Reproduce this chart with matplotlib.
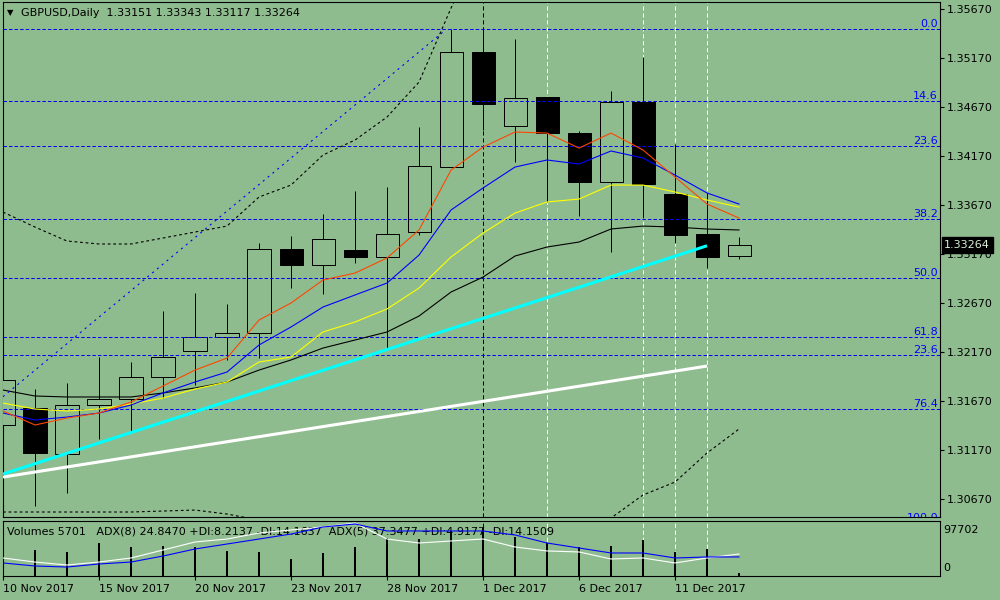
# plot.py
# GBPUSD daily chart in MetaTrader style: candles, averages, bands, Fibonacci levels, volumes and ADX

import matplotlib
matplotlib.use('Agg')
import matplotlib.pyplot as plt
import matplotlib.transforms as mtransforms
from matplotlib.patches import Rectangle

plt.rcParams['font.family'] = ['DejaVu Sans']
plt.rcParams['font.size'] = 8
plt.rcParams['lines.scale_dashes'] = False

BG = '#8FBC8F'
LW = 0.72  # exactly one pixel at 100 dpi, snapped to the pixel grid
LWC = 0.8  # curves

# ----------------- data (one entry per daily bar, 10 Nov 2017 .. 13 Dec 2017)
date_ticks = [0, 3, 6, 9, 12, 15, 18, 21]
date_labels = ['10 Nov 2017', '15 Nov 2017', '20 Nov 2017', '23 Nov 2017',
               '28 Nov 2017', '1 Dec 2017', '6 Dec 2017', '11 Dec 2017']

opens = [1.31424, 1.31597, 1.31127, 1.31628, 1.31689, 1.31914, 1.32180, 1.32323,
         1.32363, 1.33221, 1.33058, 1.33211, 1.33140, 1.33395, 1.34059, 1.35234,
         1.34478, 1.34774, 1.34406, 1.33906, 1.34723, 1.33783, 1.33375, 1.33151]
highs = [1.32282, 1.31791, 1.31853, 1.32118, 1.32067, 1.32588, 1.32772, 1.32660,
         1.33283, 1.33354, 1.33579, 1.33814, 1.33855, 1.34468, 1.35469, 1.35469,
         1.35367, 1.34774, 1.34427, 1.34835, 1.35183, 1.34294, 1.33794, 1.33343]
lows = [1.31097, 1.30596, 1.30729, 1.31281, 1.31352, 1.31699, 1.31832, 1.32088,
        1.32108, 1.32823, 1.32762, 1.33078, 1.32210, 1.33364, 1.34059, 1.34437,
        1.34110, 1.33702, 1.33559, 1.33191, 1.33538, 1.33283, 1.33027, 1.33117]
closes = [1.31883, 1.31138, 1.31628, 1.31689, 1.31914, 1.32118, 1.32323, 1.32363,
          1.33221, 1.33058, 1.33324, 1.33140, 1.33375, 1.34069, 1.35234, 1.34703,
          1.34764, 1.34406, 1.33906, 1.34723, 1.33885, 1.33364, 1.33140, 1.33264]

ma_red = [1.31567, 1.31424, 1.31495, 1.31546, 1.31659, 1.31822, 1.31985, 1.32108,
          1.32496, 1.32670, 1.32905, 1.32976, 1.33130, 1.33416, 1.34028, 1.34263,
          1.34417, 1.34406, 1.34253, 1.34406, 1.34233, 1.33957, 1.33681, 1.33538]
ma_blue = [1.31546, 1.31475, 1.31505, 1.31546, 1.31628, 1.31751, 1.31863, 1.31965,
           1.32241, 1.32425, 1.32629, 1.32752, 1.32874, 1.33160, 1.33620, 1.33845,
           1.34059, 1.34131, 1.34090, 1.34223, 1.34151, 1.33977, 1.33794, 1.33681]
ma_yellow = [1.31648, 1.31587, 1.31567, 1.31587, 1.31638, 1.31699, 1.31791, 1.31863,
             1.32067, 1.32118, 1.32374, 1.32476, 1.32609, 1.32823, 1.33140, 1.33385,
             1.33589, 1.33702, 1.33732, 1.33875, 1.33875, 1.33804, 1.33722, 1.33650]
ma_black = [1.31781, 1.31720, 1.31710, 1.31710, 1.31710, 1.31751, 1.31802, 1.31863,
            1.31985, 1.32088, 1.32210, 1.32292, 1.32374, 1.32537, 1.32782, 1.32935,
            1.33150, 1.33242, 1.33293, 1.33426, 1.33456, 1.33446, 1.33426, 1.33416]

band_up = [1.33599, 1.33446, 1.33303, 1.33273, 1.33273, 1.33334, 1.33395, 1.33456,
           1.33753, 1.33875, 1.34182, 1.34335, 1.34570, 1.34927, 1.35683, 1.36378]
band_low = [1.30535, 1.30535, 1.30535, 1.30535, 1.30535, 1.30545, 1.30555, 1.30514,
            1.30453, 1.30400, 1.30300, 1.30200, 1.30100, 1.29950, 1.29750, 1.29700,
            1.29750, 1.29850, 1.30000, 1.30474, 1.30709, 1.30841, 1.31138, 1.31383]

# trend lines: (bar, price) end points
cyan_x, cyan_y = [0, 22], [1.30923, 1.33255]
white_x, white_y = [0, 22], [1.30892, 1.32026]
dot_x, dot_y = [0, 13.75], [1.31713, 1.35438]

fib_names = ['0.0', '14.6', '23.6', '38.2', '50.0', '61.8', '23.6', '76.4', '100.0']
fib_prices = [1.35469, 1.34733, 1.34274, 1.33528, 1.32922, 1.32320, 1.32136, 1.31584, 1.30420]

vline_black = [15]
vline_white = [17, 20, 21, 22]

volumes = [50600, 47000, 43400, 59700, 52500, 54300, 52500, 45200, 43400, 30800,
           41600, 52500, 68700, 66900, 81400, 86800, 70600, 59700, 52500, 54300,
           65100, 43400, 48800, 5701]
adx_white = [21.3, 16.5, 13.0, 16.5, 21.3, 30.7, 40.2, 43.7, 50.8, 54.4, 57.9, 62.6,
             43.7, 39.0, 41.4, 43.7, 34.3, 29.6, 28.4, 20.1, 21.3, 15.4, 21.3, 26.0]
adx_blue = [15.4, 11.8, 10.6, 14.2, 16.5, 23.6, 31.9, 37.8, 43.7, 49.6, 57.9, 61.5,
            53.2, 53.2, 53.2, 53.2, 48.5, 39.0, 33.1, 27.2, 27.2, 21.3, 22.5, 22.5]

price_ticks = [1.30670, 1.31170, 1.31670, 1.32170, 1.32670, 1.33170,
               1.33670, 1.34170, 1.34670, 1.35170, 1.35670]
last_price = 1.33264

# ----------------- figure
fig = plt.figure(figsize=(10, 6), dpi=100, facecolor=BG)
ax = fig.add_axes([0.0025, 83 / 600, 0.9375, 515 / 600], facecolor=BG)
axv = fig.add_axes([0.0025, 24 / 600, 0.9375, 55 / 600], facecolor=BG)

bars = list(range(len(opens)))
XLIM = (-0.016, 29.28)

# vertical dashed lines (behind candles)
for a in (ax, axv):
    for i in vline_black:
        a.axvline(i, color='black', lw=LW, ls=(0, (3, 2)), snap=True, zorder=1)
    for i in vline_white:
        a.axvline(i, color='white', lw=LW, ls=(0, (3, 2)), snap=True, zorder=1)

# candles
for i in bars:
    o, h, l, c = opens[i], highs[i], lows[i], closes[i]
    ax.vlines(i, l, h, color='black', lw=LW, snap=True, zorder=2)
    bull = c >= o
    ax.add_patch(Rectangle((i - 0.36, min(o, c)), 0.72, abs(c - o),
                           facecolor=BG if bull else 'black', edgecolor='black',
                           lw=LW, snap=True, zorder=3))

# fibonacci levels
blend = mtransforms.blended_transform_factory(ax.transAxes, ax.transData)
for name, p in zip(fib_names, fib_prices):
    ax.axhline(p, color='#0000FF', lw=LW, ls=(0, (2.5, 1.5)), snap=True, zorder=4)
    ax.text(0.9979, p, name, transform=blend, ha='right', va='bottom',
            color='#0000FF', fontsize=8, zorder=4, clip_on=True)

# averages, bands, trend lines
thin = dict(lw=LWC, zorder=5)
ax.plot(bars, ma_black, color='black', **thin)
ax.plot(bars, ma_yellow, color='#FFFF00', **thin)
ax.plot(bars, ma_blue, color='#0000FF', **thin)
ax.plot(bars, ma_red, color='#FF4500', **thin)
ax.plot(range(len(band_up)), band_up, color='black', ls=(0, (2, 2)), **thin)
ax.plot(bars, band_low, color='black', ls=(0, (2, 2)), **thin)
ax.plot(dot_x, dot_y, color='#0000FF', ls=(0, (1.5, 3)), **thin)
ax.plot(white_x, white_y, color='white', lw=2.2, solid_capstyle='butt', zorder=5)
ax.plot(cyan_x, cyan_y, color='#00FFFF', lw=2.2, solid_capstyle='butt', zorder=5)

ax.set_xlim(*XLIM)
ax.set_ylim(1.30484, 1.35745)
ax.yaxis.tick_right()
ax.set_yticks(price_ticks)
ax.set_yticklabels(['%.5f' % p for p in price_ticks])
ax.tick_params(axis='y', direction='out', length=3, width=0.8, pad=2,
               labelsize=8, colors='black')
ax.set_xticks([])
for s in ax.spines.values():
    s.set_color('black')
    s.set_linewidth(0.8)

# current price label
ax.text(1.0046, last_price, '%.5f' % last_price, transform=blend, ha='left',
        va='center', color='#d8eed8', fontsize=8, zorder=10, clip_on=False,
        bbox=dict(boxstyle='square,pad=0.25', facecolor='black', edgecolor='black'))

# chart caption
fig.text(0.007, 1 - 13 / 600, '\u25BC', fontsize=6, va='center', color='black')
fig.text(0.021, 1 - 13 / 600, 'GBPUSD,Daily  1.33151 1.33343 1.33117 1.33264',
         fontsize=8, va='center', color='black')

# ----------------- volumes + ADX sub window
axv.bar(bars, volumes, width=0.09, color='black', snap=True, zorder=2)
axv.set_xlim(*XLIM)
axv.set_ylim(0, 99500)
axv.set_yticks([])
axv.set_xticks(date_ticks)
axv.set_xticklabels(date_labels, ha='left')
axv.tick_params(axis='x', direction='out', length=3, width=0.8, pad=2.5,
                labelsize=8, colors='black')
for s in axv.spines.values():
    s.set_color('black')
    s.set_linewidth(0.8)
axv.text(1.0038, 0.836, '97702', transform=axv.transAxes, ha='left', va='center', fontsize=8)
axv.text(1.0038, 0.145, '0', transform=axv.transAxes, ha='left', va='center', fontsize=8)
axv.text(0.005, 0.80, 'Volumes 5701   ADX(8) 24.8470 +DI:8.2137 -DI:14.1637  '
         'ADX(5) 37.3477 +DI:4.9177 -DI:14.1509', transform=axv.transAxes,
         ha='left', va='center', fontsize=8, zorder=1)

axa = axv.twinx()
axa.set_ylim(0, 65)
axa.set_axis_off()
axa.plot(bars, adx_white, color='white', lw=LWC)
axa.plot(bars, adx_blue, color='#0000FF', lw=LWC)

fig.savefig('out.png', dpi=100, facecolor=BG)
